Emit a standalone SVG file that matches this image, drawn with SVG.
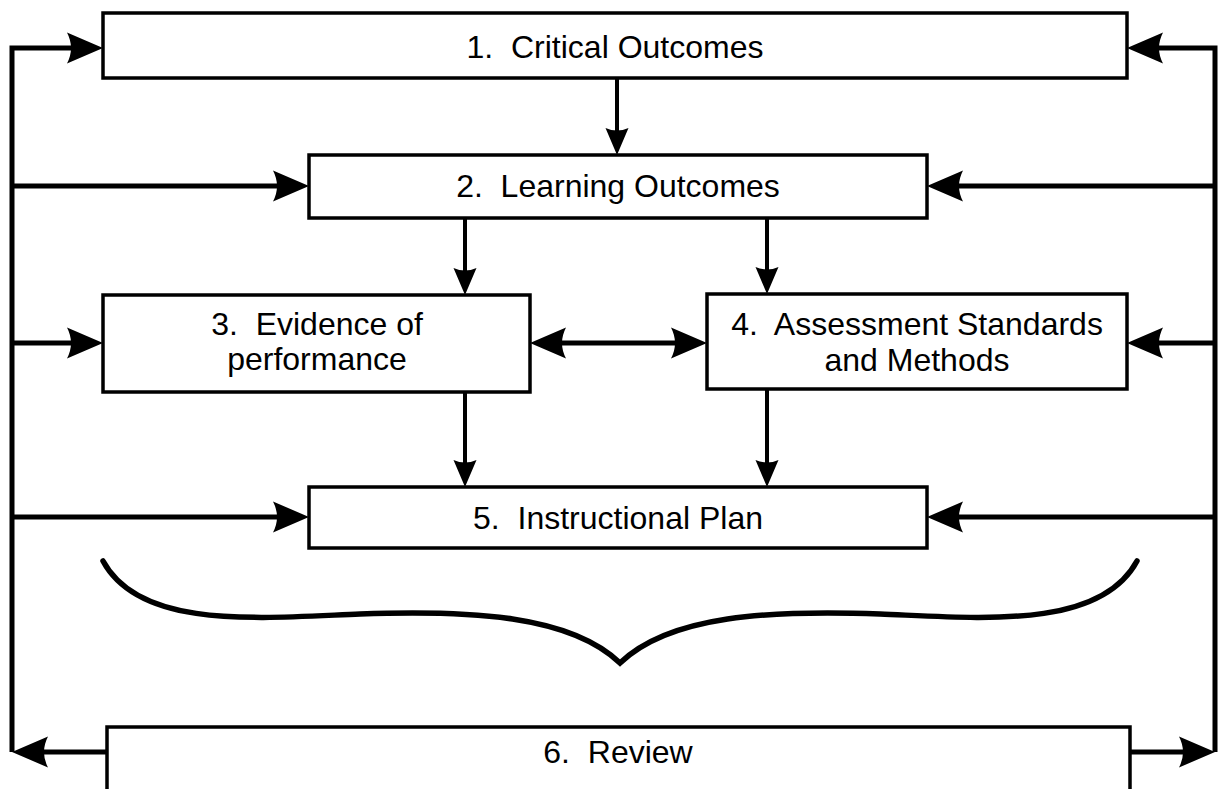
<svg xmlns="http://www.w3.org/2000/svg" width="1221" height="789" viewBox="0 0 1221 789">
<style>
.box{fill:#fff;stroke:#000;stroke-width:3.5}
.lbl{font-family:"Liberation Sans",Arial,sans-serif;font-size:32px;fill:#000;text-anchor:middle}
.big{fill:none;stroke:#000;stroke-width:5}
.sm{fill:none;stroke:#000;stroke-width:4}
.brace{fill:none;stroke:#000;stroke-width:5.5;stroke-linecap:round}
</style>
<defs>
<marker id="ah" viewBox="-20 -17 42 34" refX="0" refY="0" markerWidth="42" markerHeight="34" markerUnits="userSpaceOnUse" orient="auto-start-reverse">
<path d="M20,0 L-16,-15.5 Q-8,0 -16,15.5 Z" fill="#000"/>
</marker>
<marker id="as" viewBox="-16 -13 34 26" refX="0" refY="0" markerWidth="34" markerHeight="26" markerUnits="userSpaceOnUse" orient="auto">
<path d="M15,0 L-12,-11.5 Q-7,0 -12,11.5 Z" fill="#000"/>
</marker>
</defs>
<g id="connectors">
<path class="big" d="M12,752 V48 H83" marker-end="url(#ah)"/>
<path class="big" d="M12,186 H289" marker-end="url(#ah)"/>
<path class="big" d="M12,343 H83" marker-end="url(#ah)"/>
<path class="big" d="M12,517 H289" marker-end="url(#ah)"/>
<path class="big" d="M107,752 H32" marker-end="url(#ah)"/>
<path class="big" d="M1215,752 V48 H1147" marker-end="url(#ah)"/>
<path class="big" d="M1215,186 H947" marker-end="url(#ah)"/>
<path class="big" d="M1215,343 H1147" marker-end="url(#ah)"/>
<path class="big" d="M1215,517 H947" marker-end="url(#ah)"/>
<path class="big" d="M1130,752 H1195" marker-end="url(#ah)"/>
<path class="big" d="M550,343 H687" marker-start="url(#ah)" marker-end="url(#ah)"/>
<path class="sm" d="M617,78 V140" marker-end="url(#as)"/>
<path class="sm" d="M465,218 V280" marker-end="url(#as)"/>
<path class="sm" d="M767,218 V279" marker-end="url(#as)"/>
<path class="sm" d="M465,392 V472" marker-end="url(#as)"/>
<path class="sm" d="M767,389 V472" marker-end="url(#as)"/>
</g>
<g id="n1"><rect class="box" x="103" y="13" width="1024" height="65"/><text class="lbl" x="615" y="58">1.&#160; Critical Outcomes</text></g>
<g id="n2"><rect class="box" x="309" y="155" width="618" height="63"/><text class="lbl" x="618" y="197">2.&#160; Learning Outcomes</text></g>
<g id="n3"><rect class="box" x="103" y="295" width="427" height="97"/><text class="lbl" x="317" y="335">3.&#160; Evidence of</text><text class="lbl" x="317" y="370">performance</text></g>
<g id="n4"><rect class="box" x="707" y="294" width="420" height="95"/><text class="lbl" x="917" y="335">4.&#160; Assessment Standards</text><text class="lbl" x="917" y="371">and Methods</text></g>
<g id="n5"><rect class="box" x="309" y="487" width="618" height="61"/><text class="lbl" x="618" y="529">5.&#160; Instructional Plan</text></g>
<g id="brace"><path class="brace" d="M103,561 C140,630 260,618 360,614 C470,610 570,615 620,663 C670,615 770,610 880,614 C980,618 1100,630 1137,561"/></g>
<g id="n6"><rect class="box" x="107" y="727" width="1023" height="90"/><text class="lbl" x="618" y="763">6.&#160; Review</text></g>
</svg>
